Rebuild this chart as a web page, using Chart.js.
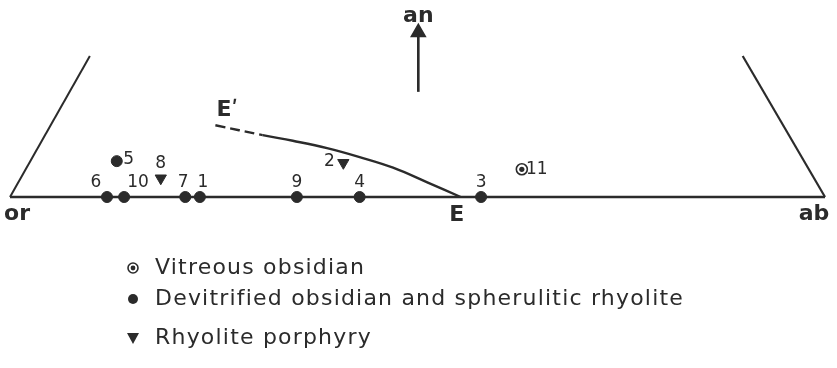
<!DOCTYPE html>
<html>
<head>
<meta charset="utf-8">
<script src="https://cdn.jsdelivr.net/npm/chart.js@4/dist/chart.umd.min.js"></script>
<style>
	html, body { margin: 0; padding: 0; background: #fff; }
	#wrap { width: 837px; height: 368px; }
</style>
</head>
<body>
<div id="wrap"><canvas id="diagram" width="837" height="368"></canvas></div>
<script>
// positions along or-ab join (or = 0, ab = 100); y = height towards an, same units
var devitrifiedLabels = ['6', '10', '7', '1', '9', '4', '3', '5'];
var devitrifiedX = [11.9, 14.0, 21.5, 23.3, 35.2, 42.9, 57.8, 13.1];
var devitrifiedY = [0, 0, 0, 0, 0, 0, 0, 4.4];

var vitreousLabels = ['11'];
var vitreousX = [62.8];
var vitreousY = [3.4];

var porphyryLabels = ['8', '2'];
var porphyryX = [18.5, 40.9];
var porphyryY = [2.3, 4.2];

// cotectic E' - E
var cotecticX = [25.2, 31.0, 34.7, 38.9, 42.9, 47.0, 51.2, 55.3];
var cotecticY = [8.8, 7.6, 6.9, 6.0, 4.9, 3.6, 1.8, 0];

var baseX = [0, 100];
var baseY = [0, 0];
var leftSideX = [0, 9.8];
var leftSideY = [0, 17.3];
var rightSideX = [100, 89.9];
var rightSideY = [0, 17.3];
var arrowX = [50.1, 50.1];
var arrowY = [12.9, 20.2];

var corners = [
	{ text: 'or', x: 0, y: 0 },
	{ text: 'ab', x: 100, y: 0 },
	{ text: 'E', x: 55.3, y: 0 },
	{ text: 'E\u02B9', x: 25.2, y: 8.8 },
	{ text: 'an', x: 50.1, y: 20.2 }
];

var legendItems = ['Vitreous obsidian', 'Devitrified obsidian and spherulitic rhyolite', 'Rhyolite porphyry'];

// label placement (pixel offsets from the point)
var labelOffset = {
	'6': [-11, -14], '10': [14, -14], '7': [-2, -14], '1': [3, -14], '9': [0, -14],
	'4': [0, -14], '3': [0, -14], '5': [12, -2], '8': [0, -15], '2': [-14, -1], '11': [15, 0],
	'or': [7, 17], 'ab': [-11, 17], 'E': [-4, 18], 'E\u02B9': [12, -15], 'an': [0, -16]
};

var ink = '#2b2b2b';

function pts(xs, ys) {
	return xs.map(function (x, i) { return { x: x, y: ys[i] }; });
}

function lineSet(xs, ys, extra) {
	var ds = {
		data: pts(xs, ys),
		showLine: true,
		borderColor: ink,
		borderWidth: 2.5,
		pointRadius: 0,
		fill: false,
		order: 10
	};
	for (var k in extra) ds[k] = extra[k];
	return ds;
}

var labelPlugin = {
	id: 'labels',
	afterDatasetsDraw: function (chart) {
		var c = chart.ctx;
		var xs = chart.scales.x, ys = chart.scales.y;
		c.save();
		c.fillStyle = ink;
		c.textAlign = 'center';
		c.textBaseline = 'middle';

		function put(text, x, y) {
			var o = labelOffset[text] || [0, 0];
			c.fillText(text, xs.getPixelForValue(x) + o[0], ys.getPixelForValue(y) + o[1]);
		}

		c.font = '17px "DejaVu Sans"';
		devitrifiedLabels.forEach(function (t, i) { put(t, devitrifiedX[i], devitrifiedY[i]); });
		vitreousLabels.forEach(function (t, i) { put(t, vitreousX[i], vitreousY[i]); });
		porphyryLabels.forEach(function (t, i) { put(t, porphyryX[i], porphyryY[i]); });

		c.font = 'bold 22px "DejaVu Sans"';
		corners.forEach(function (p) { put(p.text, p.x, p.y); });

		// legend
		var lx = 133, ly = [268, 299, 338];
		c.font = '22px "DejaVu Sans"';
		c.letterSpacing = '1.2px';
		c.textAlign = 'left';
		legendItems.forEach(function (t, i) {
			c.fillText(t, lx + 22, ly[i]);
		});
		c.letterSpacing = '0px';
		c.lineWidth = 1.6;
		c.strokeStyle = ink;
		c.beginPath(); c.arc(lx, ly[0], 5, 0, Math.PI * 2); c.stroke();
		c.beginPath(); c.arc(lx, ly[0], 2.4, 0, Math.PI * 2); c.fill();
		c.beginPath(); c.arc(lx, ly[1], 5, 0, Math.PI * 2); c.fill();
		c.beginPath();
		c.moveTo(lx - 6, ly[2] - 5); c.lineTo(lx + 6, ly[2] - 5); c.lineTo(lx, ly[2] + 6);
		c.closePath(); c.fill();
		c.restore();
	}
};

var chart = new Chart(document.getElementById('diagram'), {
	type: 'scatter',
	data: {
		datasets: [
			lineSet(baseX, baseY, { borderWidth: 2.4 }),
			lineSet(leftSideX, leftSideY, { borderWidth: 2 }),
			lineSet(rightSideX, rightSideY, { borderWidth: 2.2 }),
			lineSet(cotecticX, cotecticY, {
				borderWidth: 2.4,
				tension: 0.4,
				segment: {
					borderDash: function (ctx) { return ctx.p0DataIndex === 0 ? [10, 5] : undefined; }
				}
			}),
			lineSet(arrowX, arrowY, {
				borderWidth: 2.6,
				pointRadius: [0, 7],
				pointStyle: 'triangle',
				pointBackgroundColor: ink,
				pointBorderColor: ink
			}),
			{
				data: pts(devitrifiedX, devitrifiedY),
				pointRadius: 5.5,
				pointBackgroundColor: ink,
				pointBorderColor: ink,
				order: 2
			},
			{
				data: pts(vitreousX, vitreousY),
				pointRadius: 5.5,
				pointBorderWidth: 1.6,
				pointBackgroundColor: '#fff',
				pointBorderColor: ink,
				order: 3
			},
			{
				data: pts(vitreousX, vitreousY),
				pointRadius: 2.6,
				pointBorderWidth: 0,
				pointBackgroundColor: ink,
				order: 1
			},
			{
				data: pts(porphyryX, porphyryY),
				pointStyle: 'triangle',
				rotation: 180,
				pointRadius: 6.5,
				pointBackgroundColor: ink,
				pointBorderColor: ink,
				order: 2
			}
		]
	},
	options: {
		responsive: false,
		animation: false,
		layout: { padding: 0, autoPadding: false },
		plugins: {
			legend: { display: false },
			tooltip: { enabled: false }
		},
		scales: {
			x: { type: 'linear', display: false, min: -1.227, max: 101.47 },
			y: { type: 'linear', display: false, min: -20.98, max: 24.17 }
		}
	},
	plugins: [labelPlugin]
});
</script>
</body>
</html>
